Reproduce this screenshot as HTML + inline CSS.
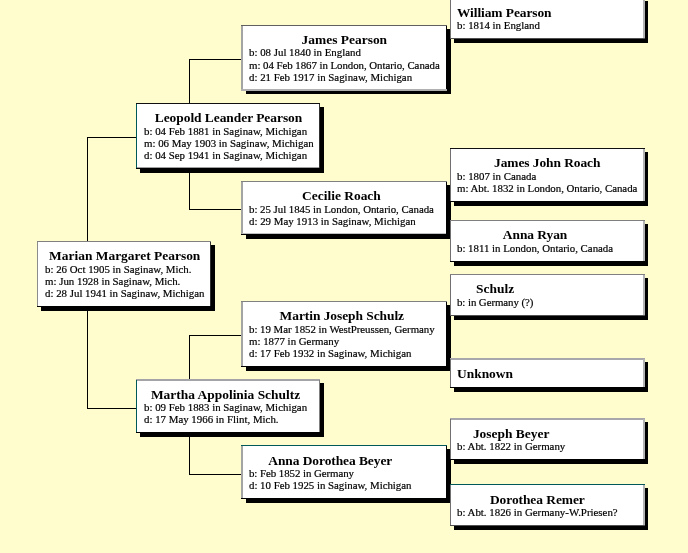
<!DOCTYPE html>
<html><head><meta charset="utf-8"><title>Pedigree</title><style>
html,body{margin:0;padding:0;}
body{width:688px;height:553px;background:#fffdcd;position:relative;overflow:hidden;font-family:"Liberation Serif",serif;color:#000;}
.s{position:absolute;background:#000;}
.b{position:absolute;background:#fff;}
.e{position:absolute;}
.c{position:absolute;white-space:nowrap;will-change:transform;}
.n{text-align:center;font-weight:bold;font-size:13.45px;line-height:14px;height:14px;position:relative;}
.l{font-size:10.87px;line-height:12px;height:12px;position:relative;-webkit-text-stroke:0.2px #000;}
.ln{position:absolute;background:#000;}
</style></head><body>

<div class="ln" style="left:87px;top:137px;width:1px;height:272px"></div>
<div class="ln" style="left:87px;top:137px;width:50px;height:1px"></div>
<div class="ln" style="left:87px;top:408px;width:50px;height:1px"></div>
<div class="ln" style="left:189px;top:59px;width:1px;height:151px"></div>
<div class="ln" style="left:189px;top:59px;width:54px;height:1px"></div>
<div class="ln" style="left:189px;top:209px;width:54px;height:1px"></div>
<div class="ln" style="left:189px;top:335px;width:1px;height:140px"></div>
<div class="ln" style="left:189px;top:335px;width:54px;height:1px"></div>
<div class="ln" style="left:189px;top:474px;width:54px;height:1px"></div>
<div class="s" style="left:41px;top:245px;width:174px;height:66px"></div>
<div class="b" style="left:37px;top:241px;width:174px;height:66px">
<div class="e" style="left:0px;top:0px;width:174px;height:1px;background:#808080"></div>
<div class="e" style="left:0px;top:1px;width:1px;height:65px;background:#8c8c8c"></div>
<div class="e" style="left:173px;top:1px;width:1px;height:65px;background:#303030"></div>
<div class="e" style="left:0px;top:65px;width:174px;height:1px;background:#000"></div>
<div class="c" style="left:8px;top:8px">
<div class="n" style="top:0px">Marian Margaret Pearson</div>
<div class="l" style="top:0px">b: 26 Oct 1905 in Saginaw, Mich.</div>
<div class="l" style="top:0px">m: Jun 1928 in Saginaw, Mich.</div>
<div class="l" style="top:0px">d: 28 Jul 1941 in Saginaw, Michigan</div>
</div></div>
<div class="s" style="left:140px;top:107px;width:184px;height:66px"></div>
<div class="b" style="left:136px;top:103px;width:184px;height:66px">
<div class="e" style="left:0px;top:0px;width:184px;height:1px;background:#101010"></div>
<div class="e" style="left:0px;top:1px;width:1px;height:65px;background:#005858"></div>
<div class="e" style="left:183px;top:1px;width:1px;height:65px;background:#303030"></div>
<div class="e" style="left:0px;top:65px;width:184px;height:1px;background:#000"></div>
<div class="c" style="left:8px;top:8px">
<div class="n" style="top:0px;letter-spacing:-0.036px;left:-0.4px">Leopold Leander Pearson</div>
<div class="l" style="top:0px">b: 04 Feb 1881 in Saginaw, Michigan</div>
<div class="l" style="top:0px">m: 06 May 1903 in Saginaw, Michigan</div>
<div class="l" style="top:0px">d: 04 Sep 1941 in Saginaw, Michigan</div>
</div></div>
<div class="e" style="left:137px;top:167px;width:182px;height:1px;background:#a0a0a0"></div>
<div class="s" style="left:140px;top:383px;width:184px;height:54px"></div>
<div class="b" style="left:136px;top:379px;width:184px;height:54px">
<div class="e" style="left:0px;top:0px;width:184px;height:2px;background:#a4a4a8"></div>
<div class="e" style="left:0px;top:1px;width:1px;height:53px;background:#005858"></div>
<div class="e" style="left:183px;top:1px;width:1px;height:53px;background:#808080"></div>
<div class="e" style="left:0px;top:53px;width:184px;height:1px;background:#000"></div>
<div class="c" style="left:8px;top:8px">
<div class="n" style="top:1px">Martha Appolinia Schultz</div>
<div class="l" style="top:0px">b: 09 Feb 1883 in Saginaw, Michigan</div>
<div class="l" style="top:0px">d: 17 May 1966 in Flint, Mich.</div>
</div></div>
<div class="s" style="left:246px;top:29px;width:205px;height:65px"></div>
<div class="b" style="left:242px;top:25px;width:205px;height:65px">
<div class="e" style="left:-1px;top:0px;width:206px;height:1px;background:#606060"></div>
<div class="e" style="left:-1px;top:1px;width:2px;height:64px;background:#a4a4a4"></div>
<div class="e" style="left:204px;top:1px;width:1px;height:64px;background:#000"></div>
<div class="e" style="left:-1px;top:64px;width:206px;height:2px;background:#b0b0b0"></div>
<div class="c" style="left:7px;top:8px">
<div class="n" style="top:0px">James Pearson</div>
<div class="l" style="top:-1px">b: 08 Jul 1840 in England</div>
<div class="l" style="top:0px;letter-spacing:-0.05px">m: 04 Feb 1867 in London, Ontario, Canada</div>
<div class="l" style="top:0px">d: 21 Feb 1917 in Saginaw, Michigan</div>
</div></div>
<div class="s" style="left:246px;top:185px;width:205px;height:54px"></div>
<div class="b" style="left:242px;top:181px;width:205px;height:54px">
<div class="e" style="left:-1px;top:0px;width:206px;height:1px;background:#808080"></div>
<div class="e" style="left:-1px;top:1px;width:2px;height:53px;background:#a4a4a4"></div>
<div class="e" style="left:204px;top:1px;width:1px;height:53px;background:#000"></div>
<div class="e" style="left:-1px;top:53px;width:206px;height:1px;background:#000"></div>
<div class="c" style="left:7px;top:8px">
<div class="n" style="top:0px">Cecilie Roach</div>
<div class="l" style="top:0px;letter-spacing:-0.03px">b: 25 Jul 1845 in London, Ontario, Canada</div>
<div class="l" style="top:0px">d: 29 May 1913 in Saginaw, Michigan</div>
</div></div>
<div class="e" style="left:242px;top:233px;width:204px;height:1px;background:#c0c0c0"></div>
<div class="s" style="left:246px;top:305px;width:205px;height:66px"></div>
<div class="b" style="left:242px;top:301px;width:205px;height:66px">
<div class="e" style="left:-1px;top:0px;width:206px;height:1px;background:#808080"></div>
<div class="e" style="left:-1px;top:1px;width:2px;height:65px;background:#a4a4a4"></div>
<div class="e" style="left:204px;top:1px;width:1px;height:65px;background:#000"></div>
<div class="e" style="left:-1px;top:65px;width:206px;height:1px;background:#000"></div>
<div class="c" style="left:7px;top:8px">
<div class="n" style="top:0px;letter-spacing:-0.05px">Martin Joseph Schulz</div>
<div class="l" style="top:0px;letter-spacing:-0.03px">b: 19 Mar 1852 in WestPreussen, Germany</div>
<div class="l" style="top:0px">m: 1877 in Germany</div>
<div class="l" style="top:0px;letter-spacing:-0.017px">d: 17 Feb 1932 in Saginaw, Michigan</div>
</div></div>
<div class="s" style="left:246px;top:449px;width:205px;height:54px"></div>
<div class="b" style="left:242px;top:445px;width:205px;height:54px">
<div class="e" style="left:-1px;top:0px;width:206px;height:1px;background:#005858"></div>
<div class="e" style="left:-1px;top:1px;width:2px;height:53px;background:#a4a4a4"></div>
<div class="e" style="left:204px;top:1px;width:1px;height:53px;background:#000"></div>
<div class="e" style="left:-1px;top:53px;width:206px;height:1px;background:#000"></div>
<div class="c" style="left:7px;top:8px">
<div class="n" style="top:1px;letter-spacing:-0.065px">Anna Dorothea Beyer</div>
<div class="l" style="top:0px;letter-spacing:-0.055px">b: Feb 1852 in Germany</div>
<div class="l" style="top:0px;letter-spacing:-0.017px">d: 10 Feb 1925 in Saginaw, Michigan</div>
</div></div>
<div class="s" style="left:454px;top:1px;width:194px;height:42px"></div>
<div class="b" style="left:450px;top:-3px;width:195px;height:42px">
<div class="e" style="left:0px;top:0px;width:195px;height:1px;background:#808080"></div>
<div class="e" style="left:0px;top:1px;width:1px;height:41px;background:#707070"></div>
<div class="e" style="left:193px;top:1px;width:2px;height:41px;background:#b4b4b4"></div>
<div class="e" style="left:0px;top:41px;width:195px;height:1px;background:#505050"></div>
<div class="c" style="left:7px;top:8px">
<div class="n" style="top:1px;letter-spacing:-0.08px">William Pearson</div>
<div class="l" style="top:0px">b: 1814 in England</div>
</div></div>
<div class="s" style="left:454px;top:152px;width:194px;height:54px"></div>
<div class="b" style="left:450px;top:148px;width:195px;height:54px">
<div class="e" style="left:0px;top:0px;width:195px;height:1px;background:#101010"></div>
<div class="e" style="left:0px;top:1px;width:1px;height:53px;background:#707070"></div>
<div class="e" style="left:193px;top:1px;width:2px;height:53px;background:#b4b4b4"></div>
<div class="e" style="left:0px;top:53px;width:195px;height:1px;background:#000"></div>
<div class="c" style="left:7px;top:8px">
<div class="n" style="top:0px;letter-spacing:-0.075px">James John Roach</div>
<div class="l" style="top:0px">b: 1807 in Canada</div>
<div class="l" style="top:0px;letter-spacing:-0.023px">m: Abt. 1832 in London, Ontario, Canada</div>
</div></div>
<div class="s" style="left:454px;top:224px;width:194px;height:42px"></div>
<div class="b" style="left:450px;top:220px;width:195px;height:42px">
<div class="e" style="left:0px;top:0px;width:195px;height:1px;background:#808080"></div>
<div class="e" style="left:0px;top:1px;width:1px;height:41px;background:#707070"></div>
<div class="e" style="left:193px;top:1px;width:2px;height:41px;background:#b4b4b4"></div>
<div class="e" style="left:0px;top:41px;width:195px;height:1px;background:#000"></div>
<div class="c" style="left:7px;top:8px">
<div class="n" style="top:0px;letter-spacing:-0.05px">Anna Ryan</div>
<div class="l" style="top:0px;letter-spacing:-0.02px">b: 1811 in London, Ontario, Canada</div>
</div></div>
<div class="s" style="left:454px;top:278px;width:194px;height:42px"></div>
<div class="b" style="left:450px;top:274px;width:195px;height:42px">
<div class="e" style="left:0px;top:0px;width:195px;height:1px;background:#808080"></div>
<div class="e" style="left:0px;top:1px;width:1px;height:41px;background:#707070"></div>
<div class="e" style="left:193px;top:1px;width:2px;height:41px;background:#b4b4b4"></div>
<div class="e" style="left:0px;top:41px;width:195px;height:1px;background:#505050"></div>
<div class="c" style="left:7px;top:8px">
<div class="n" style="top:0px">Schulz</div>
<div class="l" style="top:0px;letter-spacing:-0.075px">b: in Germany (?)</div>
</div></div>
<div class="s" style="left:454px;top:362px;width:194px;height:30px"></div>
<div class="b" style="left:450px;top:358px;width:195px;height:30px">
<div class="e" style="left:0px;top:0px;width:195px;height:2px;background:#a8a8ac"></div>
<div class="e" style="left:0px;top:1px;width:1px;height:29px;background:#707070"></div>
<div class="e" style="left:193px;top:1px;width:2px;height:29px;background:#b4b4b4"></div>
<div class="e" style="left:0px;top:29px;width:195px;height:1px;background:#000"></div>
<div class="c" style="left:7px;top:8px">
<div class="n" style="top:1px">Unknown</div>
</div></div>
<div class="s" style="left:454px;top:422px;width:194px;height:42px"></div>
<div class="b" style="left:450px;top:418px;width:195px;height:42px">
<div class="e" style="left:0px;top:0px;width:195px;height:2px;background:#a8a8ac"></div>
<div class="e" style="left:0px;top:1px;width:1px;height:41px;background:#707070"></div>
<div class="e" style="left:193px;top:1px;width:2px;height:41px;background:#b4b4b4"></div>
<div class="e" style="left:0px;top:41px;width:195px;height:1px;background:#000"></div>
<div class="c" style="left:7px;top:8px">
<div class="n" style="top:1px">Joseph Beyer</div>
<div class="l" style="top:0px">b: Abt. 1822 in Germany</div>
</div></div>
<div class="s" style="left:454px;top:488px;width:194px;height:42px"></div>
<div class="b" style="left:450px;top:484px;width:195px;height:42px">
<div class="e" style="left:0px;top:0px;width:195px;height:1px;background:#005858"></div>
<div class="e" style="left:0px;top:1px;width:1px;height:41px;background:#707070"></div>
<div class="e" style="left:193px;top:1px;width:2px;height:41px;background:#b4b4b4"></div>
<div class="e" style="left:0px;top:41px;width:195px;height:1px;background:#505050"></div>
<div class="c" style="left:7px;top:8px">
<div class="n" style="top:1px;letter-spacing:-0.06px">Dorothea Remer</div>
<div class="l" style="top:0px">b: Abt. 1826 in Germany-W.Priesen?</div>
</div></div>
</body></html>
